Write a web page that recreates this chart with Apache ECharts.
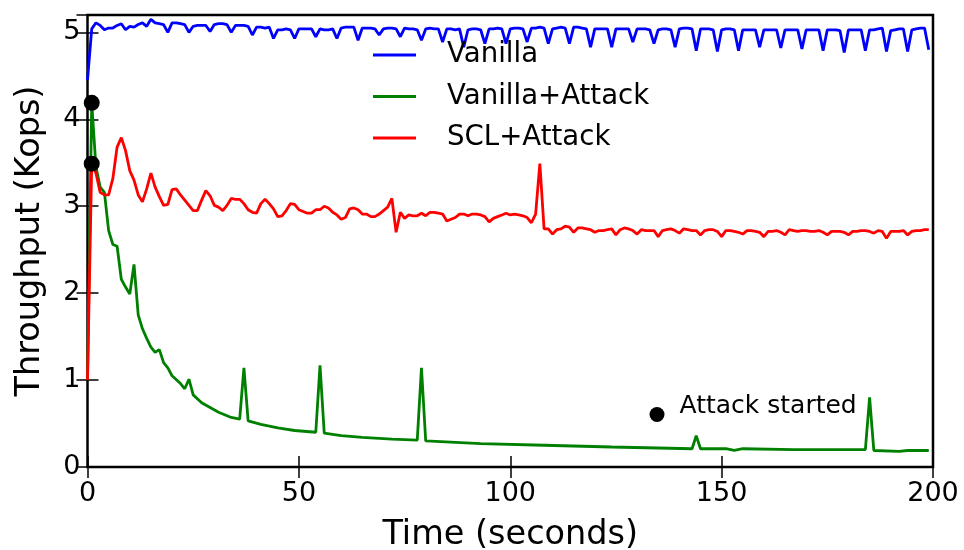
<!DOCTYPE html>
<html>
<head>
<meta charset="utf-8">
<script src="https://cdn.jsdelivr.net/npm/echarts@6/dist/echarts.min.js"></script>
<style>
  html, body { margin: 0; padding: 0; background: #fff; }
  #chart { width: 964px; height: 550px; }
</style>
</head>
<body>
<div id="chart"></div>
<script>
// Vanilla: one sample per second, t = 0..199
const blue = [
  4.45, 5.04, 5.11, 5.08, 5.03, 5.05, 5.05, 5.08, 5.10, 5.03,
  5.07, 5.06, 5.09, 5.11, 5.07, 5.15, 5.11, 5.10, 5.09, 5.00,
  5.11, 5.11, 5.10, 5.09, 5.00, 5.07, 5.08, 5.08, 5.08, 5.01,
  5.09, 5.10, 5.10, 5.09, 5.00, 5.08, 5.08, 5.08, 5.07, 4.97,
  5.06, 5.06, 5.05, 5.06, 4.93, 5.03, 5.03, 5.04, 5.03, 4.93,
  5.04, 5.04, 5.04, 5.04, 4.95, 5.04, 5.03, 5.03, 5.04, 4.93,
  5.05, 5.06, 5.06, 5.06, 4.91, 5.05, 5.05, 5.05, 5.04, 4.97,
  5.04, 5.05, 5.05, 5.04, 4.95, 5.05, 5.04, 5.04, 5.03, 4.91,
  5.04, 5.05, 5.04, 5.04, 4.89, 5.04, 5.04, 5.03, 5.04, 4.83,
  5.03, 5.04, 5.04, 5.03, 4.87, 5.04, 5.04, 5.05, 5.04, 4.87,
  5.04, 5.05, 5.05, 5.04, 4.89, 5.05, 5.05, 5.06, 5.05, 4.87,
  5.04, 5.05, 5.06, 5.05, 4.87, 5.06, 5.06, 5.05, 5.04, 4.83,
  5.04, 5.04, 5.04, 5.04, 4.83, 5.04, 5.04, 5.04, 5.04, 4.89,
  5.04, 5.04, 5.04, 5.03, 4.87, 5.03, 5.04, 5.04, 5.03, 4.83,
  5.04, 5.05, 5.05, 5.04, 4.79, 5.04, 5.04, 5.04, 5.03, 4.78,
  5.03, 5.04, 5.04, 5.03, 4.79, 5.03, 5.03, 5.03, 5.03, 4.83,
  5.03, 5.03, 5.03, 5.03, 4.82, 5.03, 5.03, 5.03, 5.03, 4.81,
  5.03, 5.03, 5.03, 5.03, 4.79, 5.03, 5.03, 5.03, 5.02, 4.77,
  5.03, 5.03, 5.03, 5.03, 4.79, 5.03, 5.03, 5.04, 5.05, 4.78,
  5.02, 5.03, 5.04, 5.04, 4.78, 5.03, 5.04, 5.05, 5.05, 4.80
]

// SCL+Attack: one sample per second, t = 0..199
const red = [
  1.00, 3.49, 3.38, 3.16, 3.13, 3.13, 3.32, 3.68, 3.79, 3.64,
  3.41, 3.30, 3.13, 3.05, 3.20, 3.38, 3.22, 3.11, 3.01, 3.02,
  3.19, 3.20, 3.13, 3.07, 3.01, 2.95, 2.95, 3.07, 3.18, 3.12,
  3.01, 2.99, 2.95, 3.01, 3.09, 3.08, 3.08, 3.03, 2.96, 2.93,
  2.92, 3.03, 3.08, 3.03, 2.97, 2.88, 2.89, 2.95, 3.03, 3.02,
  2.96, 2.94, 2.92, 2.92, 2.96, 2.96, 3.00, 2.98, 2.93, 2.90,
  2.85, 2.87, 2.97, 2.98, 2.96, 2.91, 2.91, 2.88, 2.88, 2.91,
  2.95, 2.99, 3.09, 2.70, 2.93, 2.86, 2.90, 2.89, 2.89, 2.92,
  2.89, 2.93, 2.93, 2.92, 2.91, 2.83, 2.85, 2.87, 2.91, 2.91,
  2.89, 2.91, 2.91, 2.90, 2.88, 2.82, 2.86, 2.88, 2.90, 2.92,
  2.90, 2.91, 2.90, 2.89, 2.87, 2.81, 2.91, 3.49, 2.74, 2.74,
  2.68, 2.73, 2.74, 2.77, 2.76, 2.70, 2.75, 2.75, 2.74, 2.73,
  2.70, 2.72, 2.72, 2.73, 2.74, 2.67, 2.73, 2.75, 2.74, 2.72,
  2.68, 2.73, 2.72, 2.72, 2.72, 2.65, 2.72, 2.73, 2.74, 2.72,
  2.69, 2.74, 2.73, 2.72, 2.72, 2.67, 2.72, 2.73, 2.73, 2.71,
  2.65, 2.72, 2.72, 2.71, 2.70, 2.68, 2.72, 2.72, 2.71, 2.70,
  2.65, 2.71, 2.71, 2.72, 2.70, 2.67, 2.73, 2.72, 2.71, 2.72,
  2.72, 2.71, 2.71, 2.72, 2.70, 2.67, 2.71, 2.71, 2.71, 2.70,
  2.67, 2.71, 2.71, 2.72, 2.72, 2.71, 2.69, 2.72, 2.71, 2.63,
  2.71, 2.71, 2.71, 2.72, 2.67, 2.71, 2.72, 2.72, 2.73, 2.73
]

// Vanilla+Attack: read at the turning points
const greenT = [0, 1, 2, 3, 4, 5, 6, 7, 8, 9, 10, 11, 12, 13, 14, 15, 16, 17, 18, 19, 20,
  22, 23, 24, 25, 27, 31, 34, 36, 37, 38, 41, 45, 49, 54, 55, 56, 60, 65, 72, 78, 79, 80,
  93, 108, 124, 143, 144, 145, 151, 153, 155, 167, 184, 185, 186, 192, 194, 199]
const greenV = [1.00, 4.19, 3.45, 3.22, 3.16, 2.72, 2.56, 2.54, 2.16, 2.07, 1.99, 2.33, 1.75, 1.59, 1.48, 1.38, 1.32, 1.35, 1.20, 1.14, 1.05,
  0.96, 0.90, 1.01, 0.83, 0.74, 0.63, 0.57, 0.55, 1.14, 0.53, 0.49, 0.45, 0.42, 0.40, 1.17, 0.39, 0.36, 0.34, 0.32, 0.31, 1.14, 0.30,
  0.27, 0.25, 0.23, 0.21, 0.36, 0.21, 0.21, 0.19, 0.21, 0.20, 0.20, 0.80, 0.19, 0.18, 0.19, 0.19]

// attack start points
const attackT = [1, 1]
const attackV = [4.19, 3.49]

const xTicks = { min: 0, max: 200, step: 50 }
const yTicks = { min: 0, max: 5.2, step: 1 }

const chart = echarts.init(document.getElementById('chart'))
const font = 'DejaVu Sans'

const tick = { show: true, inside: true, length: 11, lineStyle: { color: '#000', width: 1.5 } }

function xAxis(pos, withLabels) {
  return {
    type: 'value', position: pos,
    min: xTicks.min, max: xTicks.max, interval: xTicks.step,
    name: withLabels ? 'Time (seconds)' : '',
    nameLocation: 'middle', nameGap: 51,
    nameTextStyle: { fontFamily: font, fontSize: 33.5, color: '#000' },
    axisLine: { show: false },
    axisTick: tick,
    axisLabel: { show: withLabels, fontFamily: font, fontSize: 27, color: '#000', margin: 13 },
    splitLine: { show: false }
  }
}

function yAxis(pos, withLabels) {
  return {
    type: 'value', position: pos,
    min: yTicks.min, max: yTicks.max, interval: yTicks.step,
    name: withLabels ? 'Throughput (Kops)' : '',
    nameLocation: 'middle', nameGap: 40,
    nameTextStyle: { fontFamily: font, fontSize: 33.5, color: '#000' },
    axisLine: { show: false },
    axisTick: tick,
    axisLabel: {
      show: withLabels, fontFamily: font, fontSize: 27, color: '#000', margin: 7,
      formatter: v => Number.isInteger(v) ? String(v) : ''
    },
    splitLine: { show: false }
  }
}

function lineSeries(name, data, color) {
  return {
    name, type: 'line', data, symbol: 'none', showSymbol: false,
    lineStyle: { color, width: 2.8 }, itemStyle: { color }
  }
}

const option = {
  animation: false,
  backgroundColor: '#fff',
  grid: {
    left: 87.5, right: 31, top: 15, bottom: 83,
    containLabel: false, outerBoundsMode: 'none',
    show: true, borderColor: '#000', borderWidth: 2.5, backgroundColor: 'transparent'
  },
  xAxis: [xAxis('bottom', true), xAxis('top', false)],
  yAxis: [yAxis('left', true), yAxis('right', false)],
  legend: [
    {
      data: ['Vanilla', 'Vanilla+Attack', 'SCL+Attack'],
      orient: 'vertical', left: 373, top: 41, padding: 0,
      icon: 'rect', itemWidth: 43, itemHeight: 2.8, itemGap: 13.5,
      textStyle: { fontFamily: font, fontSize: 27.6, color: '#000', lineHeight: 28, padding: [0, 0, 0, 26] }
    },
    {
      data: ['Attack started'],
      left: 649.5, top: 394, padding: 0,
      icon: 'circle', itemWidth: 15, itemHeight: 15,
      itemStyle: { opacity: 1 },
      formatter: '{t|{name}}',
      textStyle: {
        color: '#000',
        rich: { t: { fontFamily: font, fontSize: 25, color: '#000', lineHeight: 26, padding: [0, 0, 16, 10] } }
      }
    }
  ],
  series: [
    lineSeries('Vanilla', blue.map((v, i) => [i, v]), '#0000ff'),
    lineSeries('Vanilla+Attack', greenT.map((t, i) => [t, greenV[i]]), '#008000'),
    lineSeries('SCL+Attack', red.map((v, i) => [i, v]), '#ff0000'),
    {
      name: 'Attack started', type: 'scatter', z: 5,
      data: attackT.map((t, i) => [t, attackV[i]]),
      symbol: 'circle', symbolSize: 16,
      itemStyle: { color: '#000', opacity: 1 }
    }
  ]
}

chart.setOption(option)
</script>
</body>
</html>
